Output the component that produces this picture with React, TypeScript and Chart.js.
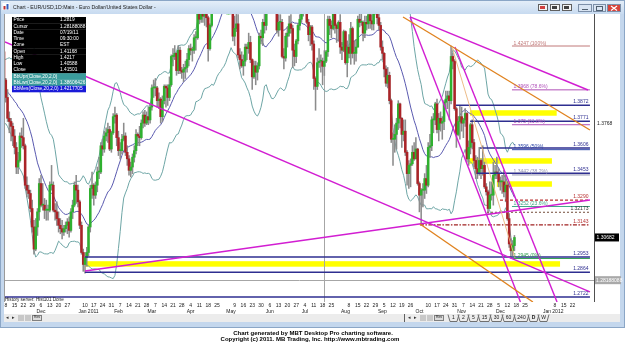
import { useEffect, useRef } from "react";
import { Chart, registerables } from "chart.js";

Chart.register(...registerables);

// ---------- DATA ----------
// one entry per trading session, first session 2010-10-04 (index 0), last 2011-12-16
const FIRST_SESSION = "2010-10-04";
// [open, high, low, close]
const ohlc: [number, number, number, number][] = [
  [1.3790,1.3795,1.3670,1.3680],[1.3680,1.3800,1.3660,1.3790],[1.3790,1.3920,1.3770,1.3900],[1.3900,1.4030,1.3880,1.3950],[1.3950,1.4000,1.3860,1.3950],
  [1.3950,1.3970,1.3870,1.3890],[1.3890,1.3930,1.3700,1.3910],[1.3910,1.4000,1.3900,1.3970],[1.3970,1.4160,1.3960,1.4070],[1.4070,1.4090,1.3910,1.3960],
  [1.3960,1.3980,1.3850,1.3950],[1.3950,1.3990,1.3700,1.3730],[1.3730,1.3970,1.3720,1.3960],[1.3960,1.4020,1.3910,1.3930],[1.3930,1.3990,1.3880,1.3960],
  [1.3960,1.4030,1.3930,1.3950],[1.3950,1.3960,1.3820,1.3880],[1.3880,1.3900,1.3760,1.3800],[1.3800,1.3950,1.3800,1.3920],[1.3920,1.3970,1.3860,1.3940],
  [1.3940,1.4000,1.3860,1.3930],[1.3930,1.4060,1.3910,1.4040],[1.4040,1.4150,1.3980,1.4120],[1.4120,1.4280,1.4110,1.4210],[1.4210,1.4230,1.4010,1.4030],
  [1.4030,1.4040,1.3890,1.3920],[1.3920,1.3970,1.3770,1.3790],[1.3790,1.3830,1.3700,1.3770],[1.3770,1.3790,1.3650,1.3740],[1.3740,1.3760,1.3620,1.3680],
  [1.3680,1.3720,1.3570,1.3610],[1.3610,1.3640,1.3450,1.3490],[1.3490,1.3580,1.3450,1.3530],[1.3530,1.3700,1.3520,1.3680],[1.3680,1.3730,1.3610,1.3670],
  [1.3670,1.3790,1.3600,1.3620],[1.3620,1.3630,1.3360,1.3380],[1.3380,1.3430,1.3310,1.3350],[1.3350,1.3380,1.3300,1.3330],[1.3330,1.3350,1.3220,1.3240],
  [1.3240,1.3290,1.3100,1.3130],[1.3130,1.3170,1.2970,1.3000],[1.3000,1.3180,1.2990,1.3130],[1.3130,1.3240,1.3080,1.3220],[1.3220,1.3420,1.3170,1.3390],
  [1.3390,1.3440,1.3250,1.3260],[1.3260,1.3390,1.3230,1.3260],[1.3260,1.3300,1.3180,1.3230],[1.3230,1.3290,1.3170,1.3230],[1.3230,1.3260,1.3170,1.3230],
  [1.3230,1.3400,1.3220,1.3380],[1.3380,1.3500,1.3350,1.3380],[1.3380,1.3400,1.3220,1.3230],[1.3230,1.3270,1.3170,1.3220],[1.3220,1.3280,1.3140,1.3180],
  [1.3180,1.3220,1.3100,1.3140],[1.3140,1.3180,1.3090,1.3120],[1.3120,1.3170,1.3060,1.3100],[1.3100,1.3140,1.3080,1.3120],[1.3120,1.3160,1.3100,1.3140],
  [1.3140,1.3180,1.3090,1.3160],[1.3160,1.3190,1.3070,1.3110],[1.3110,1.3240,1.3100,1.3220],[1.3220,1.3290,1.3180,1.3260],[1.3260,1.3400,1.3250,1.3380],
  [1.3380,1.3440,1.3270,1.3350],[1.3350,1.3380,1.3250,1.3280],[1.3280,1.3290,1.3120,1.3140],[1.3140,1.3160,1.2970,1.2980],[1.2980,1.3000,1.2870,1.2910],
  [1.2910,1.2980,1.2860,1.2950],[1.2950,1.3010,1.2900,1.2980],[1.2980,1.3140,1.2960,1.3130],[1.3130,1.3380,1.3100,1.3360],[1.3360,1.3460,1.3300,1.3380],
  [1.3380,1.3390,1.3260,1.3320],[1.3320,1.3400,1.3300,1.3380],[1.3380,1.3490,1.3340,1.3460],[1.3460,1.3550,1.3420,1.3460],[1.3460,1.3640,1.3450,1.3620],
  [1.3620,1.3660,1.3560,1.3600],[1.3600,1.3710,1.3580,1.3680],[1.3680,1.3730,1.3650,1.3700],[1.3700,1.3760,1.3640,1.3720],[1.3720,1.3740,1.3590,1.3600],
  [1.3600,1.3710,1.3580,1.3700],[1.3700,1.3820,1.3690,1.3800],[1.3800,1.3860,1.3760,1.3810],[1.3810,1.3820,1.3620,1.3670],[1.3670,1.3710,1.3560,1.3590],
  [1.3590,1.3640,1.3540,1.3590],[1.3590,1.3690,1.3570,1.3660],[1.3660,1.3760,1.3650,1.3680],[1.3680,1.3700,1.3560,1.3580],[1.3580,1.3620,1.3500,1.3540],
  [1.3540,1.3560,1.3440,1.3470],[1.3470,1.3520,1.3430,1.3490],[1.3490,1.3570,1.3450,1.3550],[1.3550,1.3620,1.3520,1.3590],[1.3590,1.3720,1.3570,1.3690],
  [1.3690,1.3700,1.3620,1.3680],[1.3680,1.3740,1.3620,1.3670],[1.3670,1.3780,1.3660,1.3760],[1.3760,1.3830,1.3730,1.3810],[1.3810,1.3840,1.3740,1.3760],
  [1.3760,1.3830,1.3750,1.3800],[1.3800,1.3860,1.3750,1.3780],[1.3780,1.3880,1.3760,1.3860],[1.3860,1.4000,1.3840,1.3980],[1.3980,1.4030,1.3920,1.3980],
  [1.3980,1.4040,1.3930,1.3980],[1.3980,1.3990,1.3860,1.3900],[1.3900,1.3950,1.3850,1.3910],[1.3910,1.3920,1.3760,1.3800],[1.3800,1.3930,1.3770,1.3900],
  [1.3900,1.4000,1.3880,1.3990],[1.3990,1.4000,1.3860,1.3980],[1.3980,1.4000,1.3870,1.3920],[1.3920,1.4050,1.3900,1.4000],[1.4000,1.4190,1.3990,1.4180],
  [1.4180,1.4230,1.4120,1.4180],[1.4180,1.4250,1.4160,1.4200],[1.4200,1.4210,1.4060,1.4090],[1.4090,1.4250,1.4070,1.4220],[1.4220,1.4240,1.4070,1.4090],
  [1.4090,1.4110,1.4040,1.4080],[1.4080,1.4130,1.4020,1.4100],[1.4100,1.4150,1.4040,1.4110],[1.4110,1.4200,1.4080,1.4160],[1.4160,1.4250,1.4120,1.4230],
  [1.4230,1.4260,1.4190,1.4220],[1.4220,1.4240,1.4150,1.4220],[1.4220,1.4320,1.4200,1.4300],[1.4300,1.4340,1.4220,1.4300],[1.4300,1.4480,1.4290,1.4480],
  [1.4480,1.4490,1.4390,1.4420],[1.4420,1.4520,1.4400,1.4480],[1.4480,1.4500,1.4400,1.4440],[1.4440,1.4500,1.4380,1.4480],[1.4480,1.4490,1.4370,1.4430],
  [1.4430,1.4440,1.4150,1.4230],[1.4230,1.4390,1.4220,1.4380],[1.4380,1.4540,1.4370,1.4530],[1.4530,1.4640,1.4520,1.4600],[1.4600,1.4620,1.4540,1.4570],
  [1.4570,1.4620,1.4550,1.4580],[1.4580,1.4720,1.4560,1.4710],[1.4710,1.4830,1.4660,1.4820],[1.4820,1.4880,1.4780,1.4800],[1.4800,1.4880,1.4780,1.4810],
  [1.4810,1.4870,1.4760,1.4830],[1.4830,1.4860,1.4780,1.4830],[1.4830,1.4940,1.4800,1.4830],[1.4830,1.4890,1.4500,1.4550],[1.4550,1.4570,1.4280,1.4310],
  [1.4310,1.4440,1.4250,1.4360],[1.4360,1.4460,1.4340,1.4390],[1.4390,1.4450,1.4170,1.4190],[1.4190,1.4230,1.4100,1.4160],[1.4160,1.4210,1.4110,1.4120],
  [1.4120,1.4190,1.4060,1.4150],[1.4150,1.4260,1.4120,1.4240],[1.4240,1.4260,1.4160,1.4230],[1.4230,1.4330,1.4200,1.4270],[1.4270,1.4310,1.4140,1.4160],
  [1.4160,1.4165,1.3970,1.4050],[1.4050,1.4150,1.4040,1.4120],[1.4120,1.4150,1.4000,1.4080],[1.4080,1.4140,1.4030,1.4120],[1.4120,1.4330,1.4100,1.4310],
  [1.4310,1.4350,1.4260,1.4300],[1.4300,1.4420,1.4250,1.4400],[1.4400,1.4480,1.4330,1.4380],[1.4380,1.4520,1.4350,1.4500],[1.4500,1.4650,1.4480,1.4640],
  [1.4640,1.4650,1.4570,1.4600],[1.4600,1.4700,1.4590,1.4670],[1.4670,1.4690,1.4580,1.4610],[1.4610,1.4640,1.4500,1.4520],[1.4520,1.4530,1.4330,1.4350],
  [1.4350,1.4450,1.4310,1.4400],[1.4400,1.4450,1.4350,1.4400],[1.4400,1.4420,1.4170,1.4180],[1.4180,1.4230,1.4100,1.4170],[1.4170,1.4330,1.4150,1.4310],
  [1.4310,1.4370,1.4240,1.4330],[1.4330,1.4440,1.4310,1.4390],[1.4390,1.4450,1.4330,1.4360],[1.4360,1.4380,1.4110,1.4220],[1.4220,1.4260,1.4120,1.4180],
  [1.4180,1.4290,1.4140,1.4280],[1.4280,1.4390,1.4260,1.4380],[1.4380,1.4450,1.4350,1.4420],[1.4420,1.4510,1.4400,1.4490],[1.4490,1.4540,1.4440,1.4520],
  [1.4520,1.4570,1.4480,1.4540],[1.4540,1.4550,1.4390,1.4400],[1.4400,1.4420,1.4280,1.4320],[1.4320,1.4380,1.4250,1.4370],[1.4370,1.4380,1.4220,1.4260],
  [1.4260,1.4280,1.3970,1.4040],[1.4040,1.4050,1.3840,1.3990],[1.3990,1.4170,1.3970,1.4140],[1.4140,1.4230,1.4110,1.4150],[1.4150,1.4190,1.4080,1.4150],
  [1.4150,1.4170,1.4000,1.4117],[1.41168,1.4217,1.40588,1.41501],[1.4150,1.4220,1.4140,1.4210],[1.4210,1.4440,1.4180,1.4420],[1.4420,1.4440,1.4320,1.4380],
  [1.4380,1.4410,1.4300,1.4360],[1.4360,1.4520,1.4350,1.4500],[1.4500,1.4530,1.4330,1.4380],[1.4380,1.4390,1.4270,1.4360],[1.4360,1.4410,1.4280,1.4400],
  [1.4400,1.4450,1.4200,1.4240],[1.4240,1.4270,1.4160,1.4220],[1.4220,1.4350,1.4210,1.4340],[1.4340,1.4345,1.4130,1.4140],[1.4140,1.4280,1.4050,1.4240],
  [1.4240,1.4320,1.4170,1.4200],[1.4200,1.4400,1.4130,1.4360],[1.4360,1.4370,1.4170,1.4200],[1.4200,1.4280,1.4130,1.4200],[1.4200,1.4290,1.4150,1.4240],
  [1.4240,1.4440,1.4240,1.4420],[1.4420,1.4480,1.4370,1.4400],[1.4400,1.4480,1.4380,1.4400],[1.4400,1.4410,1.4280,1.4330],[1.4330,1.4440,1.4300,1.4400],
  [1.4400,1.4440,1.4350,1.4390],[1.4390,1.4470,1.4360,1.4450],[1.4450,1.4460,1.4360,1.4410],[1.4410,1.4450,1.4350,1.4390],[1.4390,1.4510,1.4350,1.4500],
  [1.4500,1.4540,1.4460,1.4500],[1.4500,1.4530,1.4390,1.4430],[1.4430,1.4480,1.4350,1.4380],[1.4380,1.4400,1.4220,1.4240],[1.4240,1.4280,1.4160,1.4200],
  [1.4200,1.4205,1.4050,1.4100],[1.4100,1.4120,1.3990,1.4010],[1.4010,1.4110,1.3980,1.4060],[1.4060,1.4080,1.3880,1.3900],[1.3900,1.3910,1.3640,1.3660],
  [1.3660,1.3700,1.3500,1.3660],[1.3660,1.3750,1.3580,1.3690],[1.3690,1.3790,1.3600,1.3760],[1.3760,1.3900,1.3720,1.3880],[1.3880,1.3885,1.3730,1.3790],
  [1.3790,1.3795,1.3610,1.3690],[1.3690,1.3780,1.3650,1.3710],[1.3710,1.3780,1.3560,1.3580],[1.3580,1.3590,1.3380,1.3450],[1.3450,1.3530,1.3360,1.3500],
  [1.3500,1.3540,1.3370,1.3510],[1.3510,1.3620,1.3500,1.3580],[1.3580,1.3640,1.3530,1.3540],[1.3540,1.3670,1.3540,1.3600],[1.3600,1.3605,1.3380,1.3390],
  [1.3390,1.3400,1.3220,1.3320],[1.3320,1.3360,1.3145,1.3350],[1.3350,1.3390,1.3250,1.3350],[1.3350,1.3450,1.3300,1.3420],[1.3420,1.3500,1.3330,1.3380],
  [1.3380,1.3640,1.3370,1.3610],[1.3610,1.3690,1.3550,1.3620],[1.3620,1.3800,1.3590,1.3780],[1.3780,1.3820,1.3700,1.3780],[1.3780,1.3890,1.3750,1.3880],
  [1.3880,1.3910,1.3700,1.3720],[1.3720,1.3820,1.3650,1.3790],[1.3790,1.3830,1.3710,1.3760],[1.3760,1.3800,1.3660,1.3770],[1.3770,1.3900,1.3720,1.3890],
  [1.3890,1.3960,1.3850,1.3910],[1.3910,1.3960,1.3850,1.3930],[1.3930,1.3960,1.3780,1.3900],[1.3900,1.4247,1.3880,1.4180],[1.4180,1.4200,1.4100,1.4150],
  [1.4150,1.4160,1.3840,1.3850],[1.3850,1.3860,1.3610,1.3690],[1.3690,1.3800,1.3680,1.3770],[1.3770,1.3870,1.3660,1.3800],[1.3800,1.3860,1.3710,1.3760],
  [1.3760,1.3790,1.3670,1.3780],[1.3780,1.3850,1.3740,1.3820],[1.3820,1.3825,1.3520,1.3540],[1.3540,1.3650,1.3500,1.3610],[1.3610,1.3760,1.3570,1.3750],
  [1.3750,1.3780,1.3600,1.3640],[1.3640,1.3660,1.3490,1.3530],[1.3530,1.3560,1.3420,1.3480],[1.3480,1.3550,1.3420,1.3450],[1.3450,1.3610,1.3440,1.3530],
  [1.3530,1.3540,1.3420,1.3480],[1.3480,1.3620,1.3440,1.3500],[1.3500,1.3520,1.3360,1.3370],[1.3370,1.3390,1.3320,1.3340],[1.3340,1.3350,1.3210,1.3240],
  [1.3240,1.3400,1.3240,1.3320],[1.3320,1.3400,1.3290,1.3320],[1.3320,1.3520,1.3260,1.3440],[1.3440,1.3500,1.3420,1.3460],[1.3460,1.3550,1.3420,1.3450],
  [1.3450,1.3480,1.3370,1.3400],[1.3400,1.3430,1.3350,1.3400],[1.3400,1.3440,1.3330,1.3400],[1.3400,1.3470,1.3310,1.3340],[1.3340,1.3440,1.3280,1.3380],
  [1.3380,1.3390,1.3170,1.3180],[1.3180,1.3210,1.3010,1.3030],[1.3030,1.3060,1.2945,1.2990],[1.2990,1.3050,1.2960,1.3020],[1.3020,1.3080,1.2990,1.3068],
];

// x axis: visible session range and week / month labels [session index, text]
const SESSION_MIN = 24.55;
const SESSION_MAX = 359.2;
const dayTicks: [number, string][] = [
  [25,"8"],[30,"15"],[35,"22"],[40,"29"],[45,"6"],[50,"13"],[55,"20"],[60,"27"],[70,"10"],[75,"17"],[80,"24"],[85,"31"],
  [90,"7"],[95,"14"],[100,"21"],[105,"28"],[110,"7"],[115,"14"],[120,"21"],[125,"28"],[130,"4"],[135,"11"],[140,"18"],[145,"25"],
  [155,"9"],[160,"16"],[165,"23"],[170,"30"],[175,"6"],[180,"13"],[185,"20"],[190,"27"],[195,"4"],[200,"11"],[205,"18"],[210,"25"],
  [220,"8"],[225,"15"],[230,"22"],[235,"29"],[240,"5"],[245,"12"],[250,"19"],[255,"26"],[265,"10"],[270,"17"],[275,"24"],[280,"31"],
  [285,"7"],[290,"14"],[295,"21"],[300,"28"],[305,"5"],[310,"12"],[315,"18"],[320,"25"],[337,"8"],[342,"15"],[347,"22"],
];
const monthTicks: [number, string][] = [
  [45,"Dec"],[72,"Jan 2011"],[89,"Feb"],[108,"Mar"],[130,"Apr"],[153,"May"],[175,"Jun"],[195,"Jul"],
  [218,"Aug"],[239,"Sep"],[260,"Oct"],[284,"Nov"],[306,"Dec"],[336,"Jan 2012"],
];

// price axis (logarithmic in the original)
const PRICE_MIN = 1.26932;
const PRICE_MAX = 1.44542;

// horizontal support / resistance lines
const LINE_END = 356.9;
const levelPrices = [1.3872, 1.3771, 1.3606, 1.3453, 1.2953, 1.2864, 1.2722];
const levelStarts = [280.8, 288.8, 294.4, 292.7, 70, 70, 24.55];
const dashedPrices = [1.3290, 1.32173, 1.3143];
const dashedLabels = ["1.3290", "1.32173", "1.3143"];
const dashedStarts = [305.8, 298.4, 260.3];
// Fibonacci retracement
const FIB_START = 312.6;
const fibPrices = [1.4247, 1.3968, 1.3750, 1.3596, 1.3442, 1.3252, 1.2945];
const fibLabels = ["1.4247 (100%)", "1.3968 (78.6%)", "1.375 (61.8%)", "1.3596 (50%)", "1.3442 (38.2%)", "1.3252 (23.6%)", "1.2945 (0%)"];
// highlighted zones [price, from session, to session]
const zones: [number, number, number][] = [
  [1.3823, 288.8, 338], [1.3527, 287.6, 335.3], [1.3387, 304, 335.3], [1.2913, 70, 339.9],
];
// trend lines [session1, price1, session2, price2]
const magentaLines: [number, number, number, number][] = [
  [24.55, 1.4273, 356.9, 1.2751],
  [70, 1.2872, 356.9, 1.3291],
  [254.7, 1.4435, 355.8, 1.3967],
  [254.7, 1.4435, 317.4, 1.2693],
  [280.2, 1.4241, 338.2, 1.2693],
];
const orangeLines: [number, number, number, number][] = [
  [250.7, 1.4435, 356.9, 1.3717],
  [260.3, 1.3148, 324.5, 1.2693],
];
const thinOrangeLines: [number, number, number, number][] = [
  [278.5, 1.4241, 314.3, 1.2948],
];
// cursor & right-axis readouts
const CURSOR_SESSION = 206;
const CURSOR_PRICE = 1.28188088;
const LAST_PRICE = 1.30682;
const BB_UPPER_LAST = 1.3768;
const infoRows: [string, string][] = [
  ["Price", "1.2819"], ["Cursor", "1.28188088"], ["Date", "07/19/11"], ["Time", "09:30:00"], ["Zone", "EST"],
  ["Open", "1.41168"], ["High", "1.4217"], ["Low", "1.40588"], ["Close", "1.41501"],
  ["BbUpr(Close,20,2,0)", ""], ["BbLwr(Close,20,2,0)", "1.38606426"], ["BbMes(Close,20,2,0)", "1.4217705"],
];
const periods = ["1", "2", "5", "15", "30", "60", "240", "D", "W"];

// ---------- HELPERS ----------
const FONT = "'Liberation Sans', Arial, sans-serif";

function bollinger(values: number[], period: number, mult: number) {
  const mid: { x: number; y: number }[] = [];
  const up: { x: number; y: number }[] = [];
  const lo: { x: number; y: number }[] = [];
  for (let k = period - 1; k < values.length; k++) {
    const w = values.slice(k - period + 1, k + 1);
    const m = w.reduce((s, v) => s + v, 0) / period;
    const sd = Math.sqrt(w.reduce((s, v) => s + (v - m) * (v - m), 0) / period);
    mid.push({ x: k, y: m });
    up.push({ x: k, y: m + mult * sd });
    lo.push({ x: k, y: m - mult * sd });
  }
  return { mid, up, lo };
}

function seg(ctx: CanvasRenderingContext2D, x1: number, y1: number, x2: number, y2: number) {
  ctx.beginPath();
  ctx.moveTo(x1, y1);
  ctx.lineTo(x2, y2);
  ctx.stroke();
}

const overlayPlugin = {
  id: "mbtOverlay",
  beforeDraw(chart: any) {
    const { ctx, width, height } = chart;
    ctx.save();
    ctx.fillStyle = "#ffffff";
    ctx.fillRect(0, 0, width, height);
    // window frame
    ctx.fillStyle = "#c4d7ed";
    ctx.fillRect(0, 0, width, 328);
    ctx.strokeStyle = "#8ba6c6";
    ctx.lineWidth = 1;
    ctx.strokeRect(0.5, 0.5, width - 1, 327);
    const g = ctx.createLinearGradient(0, 0, 0, 14);
    g.addColorStop(0, "#e6eff9");
    g.addColorStop(1, "#c7daf0");
    ctx.fillStyle = g;
    ctx.fillRect(1, 1, width - 2, 13);
    // client area
    ctx.fillStyle = "#ffffff";
    ctx.fillRect(4, 14, 616, 300);
    ctx.fillStyle = "#ececec";
    ctx.fillRect(4, 314, 616, 8);
    ctx.restore();
  },
  beforeDatasetsDraw(chart: any) {
    const { ctx, chartArea: a, scales } = chart;
    const X = (k: number) => scales.x.getPixelForValue(k);
    const Y = (p: number) => scales.y.getPixelForValue(p);
    ctx.save();
    ctx.beginPath();
    ctx.rect(a.left, a.top, a.right - a.left, a.bottom - a.top);
    ctx.clip();
    // yellow zones
    ctx.fillStyle = "#ffff00";
    for (const [p, k1, k2] of zones) ctx.fillRect(X(k1), Y(p) - 2.75, X(k2) - X(k1), 5.5);
    // cursor cross-hair
    ctx.strokeStyle = "#a6a6a6";
    ctx.lineWidth = 1;
    const cx = Math.round(X(CURSOR_SESSION)) + 0.5;
    const cy = Math.round(Y(CURSOR_PRICE)) + 0.5;
    seg(ctx, cx, a.top, cx, a.bottom);
    seg(ctx, a.left, cy, a.right, cy);
    ctx.restore();
  },
  afterDatasetsDraw(chart: any) {
    const { ctx, chartArea: a, scales } = chart;
    const X = (k: number) => scales.x.getPixelForValue(k);
    const Y = (p: number) => scales.y.getPixelForValue(p);
    ctx.save();
    ctx.beginPath();
    ctx.rect(a.left, a.top, a.right - a.left, a.bottom - a.top);
    ctx.clip();
    ctx.lineCap = "butt";
    // fib lines
    const fibColors = ["#c07878", "#b050b8", "#b050b8", "#3048a8", "#9090b0", "#40a888", "#30a050"];
    ctx.lineWidth = 1;
    fibPrices.forEach((p, i) => {
      ctx.strokeStyle = fibColors[i];
      const yy = Y(p);
      seg(ctx, X(FIB_START), yy, X(LINE_END), yy);
    });
    // dashed lines
    const dashColors = ["#b83030", "#8a6a5a", "#a02020"];
    const dashPatterns = [[3, 2], [2, 2], [4, 1.5, 1.5, 1.5]];
    dashedPrices.forEach((p, i) => {
      ctx.strokeStyle = dashColors[i];
      ctx.setLineDash(dashPatterns[i]);
      ctx.lineWidth = 1.2;
      const yy = Y(p);
      seg(ctx, X(dashedStarts[i]), yy, X(LINE_END), yy);
    });
    ctx.setLineDash([]);
    // horizontal levels
    ctx.strokeStyle = "#2e2e90";
    ctx.lineWidth = 1.5;
    levelPrices.forEach((p, i) => {
      const yy = Y(p);
      seg(ctx, X(levelStarts[i]), yy, X(LINE_END), yy);
    });
    // trend lines
    ctx.strokeStyle = "#d21ed2";
    ctx.lineWidth = 1.4;
    for (const [k1, p1, k2, p2] of magentaLines) seg(ctx, X(k1), Y(p1), X(k2), Y(p2));
    ctx.strokeStyle = "#e0821e";
    ctx.lineWidth = 1.3;
    for (const [k1, p1, k2, p2] of orangeLines) seg(ctx, X(k1), Y(p1), X(k2), Y(p2));
    ctx.strokeStyle = "#eab47a";
    ctx.lineWidth = 0.9;
    for (const [k1, p1, k2, p2] of thinOrangeLines) seg(ctx, X(k1), Y(p1), X(k2), Y(p2));

    // labels
    ctx.font = `5px ${FONT}`;
    ctx.textBaseline = "alphabetic";
    ctx.textAlign = "left";
    fibPrices.forEach((p, i) => {
      ctx.fillStyle = fibColors[i];
      ctx.fillText(fibLabels[i], X(FIB_START) + 1.5, Y(p) - 1.5);
    });
    ctx.textAlign = "right";
    ctx.fillStyle = "#2e2e90";
    levelPrices.forEach((p) => ctx.fillText(p.toFixed(4), X(LINE_END) - 1.5, Y(p) - 2));
    dashedPrices.forEach((p, i) => {
      ctx.fillStyle = i === 1 ? "#303030" : "#b83030";
      ctx.fillText(dashedLabels[i], X(LINE_END) - 1.5, Y(p) - 2);
    });
    ctx.restore();
  },
  afterDraw(chart: any) {
    const { ctx, chartArea: a, scales } = chart;
    const X = (k: number) => scales.x.getPixelForValue(k);
    const Y = (p: number) => scales.y.getPixelForValue(p);
    ctx.save();
    // plot borders
    ctx.strokeStyle = "#9a9a9a";
    ctx.lineWidth = 1;
    seg(ctx, a.left - 0.5, a.top, a.left - 0.5, a.bottom);
    ctx.strokeStyle = "#505050";
    seg(ctx, a.right + 0.5, a.top, a.right + 0.5, a.bottom);

    // title bar
    ctx.fillStyle = "#ffffff";
    ctx.fillRect(2.5, 3, 7, 7);
    ctx.fillStyle = "#c03030";
    ctx.fillRect(3.5, 6, 2, 3.5);
    ctx.fillStyle = "#3060c0";
    ctx.fillRect(6.5, 4, 2, 5.5);
    ctx.fillStyle = "#1b1b1b";
    ctx.font = `5.2px ${FONT}`;
    ctx.textBaseline = "middle";
    ctx.textAlign = "left";
    ctx.fillText("Chart - EUR/USD,1D:Main - Euro Dollar/United States Dollar -", 13, 7.5);
    // title bar tool icons
    const icons = [538, 550, 562];
    icons.forEach((ix, i) => {
      ctx.fillStyle = "#f4f4f4";
      ctx.fillRect(ix, 4, 10, 7);
      ctx.strokeStyle = "#606060";
      ctx.strokeRect(ix + 0.5, 4.5, 9, 6);
      ctx.fillStyle = i === 0 ? "#d04040" : "#404040";
      ctx.fillRect(ix + 2, 6, 5, 3);
    });
    // window buttons
    const btn = (bx: number, w: number, fill: string) => {
      ctx.fillStyle = fill;
      ctx.fillRect(bx, 4, w, 8);
      ctx.strokeStyle = "#7c8fa8";
      ctx.strokeRect(bx + 0.5, 4.5, w - 1, 7);
    };
    btn(578, 14, "#d8e4f2");
    btn(593, 13, "#d8e4f2");
    btn(607, 14, "#d9443a");
    ctx.strokeStyle = "#506070";
    seg(ctx, 582, 9.5, 588, 9.5);
    ctx.strokeRect(596.5, 6.5, 6, 4);
    ctx.strokeStyle = "#ffffff";
    ctx.lineWidth = 1.2;
    seg(ctx, 611, 6, 617, 10.5);
    seg(ctx, 617, 6, 611, 10.5);
    ctx.lineWidth = 1;

    // info box
    const bx = 12, by = 17, rh = 6.25, bw = 74;
    infoRows.forEach(([label, value], i) => {
      ctx.fillStyle = i < 9 ? "#000000" : i < 11 ? "#3b9c9c" : "#1a1ad8";
      ctx.fillRect(bx, by + i * rh, bw, rh + 0.3);
      ctx.fillStyle = "#ffffff";
      ctx.font = `4.8px ${FONT}`;
      ctx.textBaseline = "middle";
      ctx.textAlign = "left";
      ctx.fillText(label, bx + 1.5, by + i * rh + rh / 2);
      if (value) ctx.fillText(value, bx + 48, by + i * rh + rh / 2);
    });

    // right axis readouts
    ctx.font = `5px ${FONT}`;
    ctx.textBaseline = "middle";
    ctx.textAlign = "left";
    ctx.fillStyle = "#202020";
    ctx.fillText(BB_UPPER_LAST.toFixed(4), a.right + 3, Y(BB_UPPER_LAST) + 1.5);
    const ly = Y(LAST_PRICE);
    ctx.fillStyle = "#000000";
    ctx.fillRect(a.right + 1, ly - 4, 24, 8);
    ctx.fillStyle = "#ffffff";
    ctx.fillText(LAST_PRICE.toFixed(5), a.right + 2.5, ly);
    const cy = Y(CURSOR_PRICE);
    ctx.fillStyle = "#a9a9a9";
    ctx.fillRect(a.right + 1, cy - 4, 26, 8);
    ctx.fillStyle = "#ffffff";
    ctx.fillText(CURSOR_PRICE.toFixed(8), a.right + 2, cy);

    // status text
    ctx.fillStyle = "#202020";
    ctx.font = `4.6px ${FONT}`;
    ctx.fillText("History server: Hist101 Done", 5, a.bottom - 2.5);

    // x axis labels
    ctx.save();
    ctx.beginPath();
    ctx.rect(4, a.bottom, 616, 14);
    ctx.clip();
    ctx.fillStyle = "#202020";
    ctx.font = `5px ${FONT}`;
    ctx.textAlign = "center";
    for (const [k, t] of dayTicks) ctx.fillText(t, X(k), a.bottom + 3.5);
    for (const [k, t] of monthTicks) ctx.fillText(t, X(k), a.bottom + 9.5);
    ctx.restore();

    // tab bar
    ctx.font = `5px ${FONT}`;
    ctx.textBaseline = "middle";
    ctx.textAlign = "center";
    const nav = (nx: number) => {
      ctx.fillStyle = "#303030";
      ctx.fillText("\u25C2", nx + 3, 318);
      ctx.fillText("\u25B8", nx + 9, 318);
      ctx.fillStyle = "#c8c8c8";
      ctx.fillRect(nx + 14, 315, 6, 6);
      ctx.fillRect(nx + 21, 315, 6, 6);
      ctx.fillStyle = "#dcdcdc";
      ctx.fillRect(nx + 28, 315, 10, 6);
      ctx.strokeStyle = "#808080";
      ctx.strokeRect(nx + 28.5, 315.5, 9, 5);
      ctx.fillStyle = "#202020";
      ctx.font = `3.5px ${FONT}`;
      ctx.fillText("Res", nx + 33, 317.5);
      ctx.font = `5px ${FONT}`;
    };
    nav(4);
    ctx.strokeStyle = "#606060";
    seg(ctx, 404.5, 314, 404.5, 322);
    nav(406);
    let tx = 448;
    periods.forEach((p) => {
      const w = p.length > 2 ? 15 : p.length > 1 ? 13 : 11;
      ctx.strokeStyle = "#707070";
      ctx.beginPath();
      ctx.moveTo(tx, 314.5);
      ctx.lineTo(tx + 2, 321.5);
      ctx.lineTo(tx + w - 2, 321.5);
      ctx.lineTo(tx + w, 314.5);
      ctx.stroke();
      ctx.fillStyle = "#202020";
      ctx.font = p === "D" ? `bold 5px ${FONT}` : `5px ${FONT}`;
      ctx.fillText(p, tx + w / 2, 318);
      tx += w - 1;
    });
    ctx.restore();
  },
};

export default function App() {
  const ref = useRef<HTMLCanvasElement>(null);
  useEffect(() => {
    const canvas = ref.current;
    if (!canvas) return;
    const closes = ohlc.map((c) => c[3]);
    const bb = bollinger(closes, 20, 2);
    const up = "#2fb02f";
    const down = "#aa2428";
    const chart = new Chart(canvas, {
      type: "bar",
      data: {
        datasets: [
          { type: "line", data: bb.up, borderColor: "#6ea6a6", borderWidth: 1, pointRadius: 0, order: 5 } as any,
          { type: "line", data: bb.lo, borderColor: "#6ea6a6", borderWidth: 1, pointRadius: 0, order: 5 } as any,
          { type: "line", data: bb.mid, borderColor: "#5a5ab0", borderWidth: 1, pointRadius: 0, order: 4 } as any,
          {
            type: "bar",
            data: ohlc.map((c, k) => ({ x: k, y: [c[2], c[1]] })),
            backgroundColor: "#8c8c8c",
            barThickness: 0.9,
            grouped: false,
            order: 3,
          } as any,
          {
            type: "bar",
            data: ohlc.map((c, k) => ({ x: k, y: [c[0], c[3]] })),
            backgroundColor: ohlc.map((c) => (c[3] >= c[0] ? up : down)),
            barThickness: 1.9,
            minBarLength: 1,
            grouped: false,
            order: 2,
          } as any,
        ],
      },
      options: {
        animation: false,
        responsive: false,
        devicePixelRatio: 1,
        events: [],
        layout: { padding: { left: 5, top: 14, right: 31, bottom: 42 } },
        plugins: { legend: { display: false }, tooltip: { enabled: false }, title: { display: false } },
        scales: {
          x: { type: "linear", min: SESSION_MIN, max: SESSION_MAX, display: false, offset: false },
          y: { type: "logarithmic", min: PRICE_MIN, max: PRICE_MAX, display: false },
        },
      },
      plugins: [overlayPlugin],
    });
    return () => chart.destroy();
  }, []);

  return (
    <div style={{ position: "absolute", left: 0, top: 0, width: 625, height: 344, overflow: "hidden", background: "#fff" }}>
      <canvas ref={ref} width={625} height={344} style={{ display: "block", width: 625, height: 344 }} data-first-session={FIRST_SESSION} />
      <div style={{ position: "absolute", left: 0, top: 330, width: 620, textAlign: "center", font: `bold 6px ${FONT}`, lineHeight: "6px", color: "#000", whiteSpace: "nowrap" }}>
        <div style={{ paddingLeft: 6 }}>Chart generated by MBT Desktop Pro charting software.</div>
        <div>Copyright (c) 2011. MB Trading, Inc. http://www.mbtrading.com</div>
      </div>
    </div>
  );
}
